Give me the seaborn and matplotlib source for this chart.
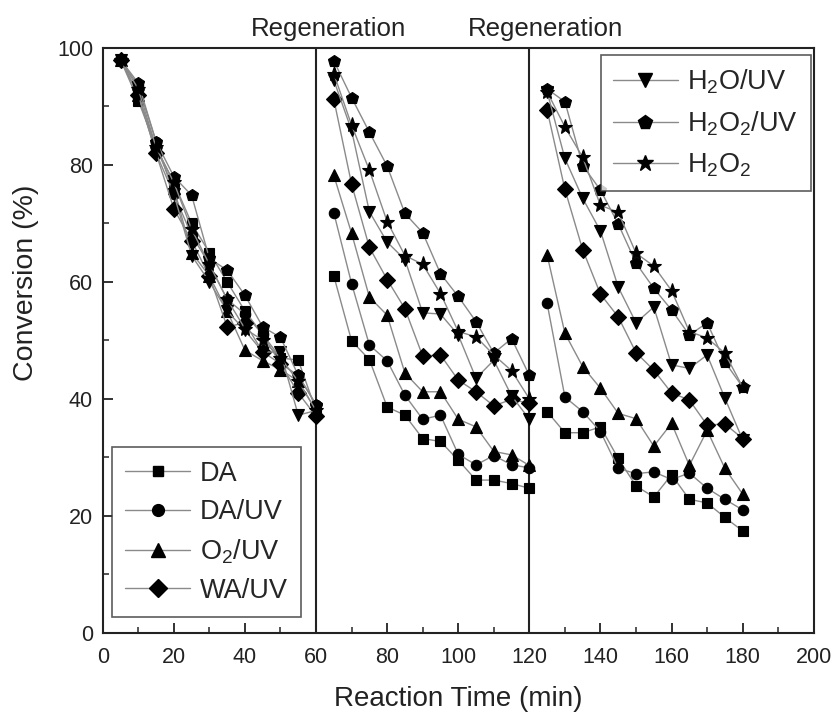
import matplotlib
matplotlib.use("Agg")
import matplotlib.pyplot as plt
from matplotlib.lines import Line2D
import matplotlib.transforms as mtransforms
import numpy as np
import pandas as pd
import seaborn as sns

# Sampling times (min) for the three adsorption cycles
t_cycle1 = [5, 10, 15, 20, 25, 30, 35, 40, 45, 50, 55, 60]
t_cycle2 = [65, 70, 75, 80, 85, 90, 95, 100, 105, 110, 115, 120]
t_cycle3 = [125, 130, 135, 140, 145, 150, 155, 160, 165, 170, 175, 180]

# Conversion (%) for each regeneration method
da_c1 = [98, 91, 83, 77, 70, 65, 60, 55, 51, 47, 46.6, 38]
da_c2 = [61.0, 49.9, 46.7, 38.6, 37.2, 33.2, 32.7, 29.5, 26.1, 26.1, 25.5, 24.7]
da_c3 = [37.8, 34.2, 34.2, 35.2, 29.8, 25.1, 23.2, 27.0, 22.8, 22.2, 19.7, 17.4]

dauv_c1 = [98, 93.5, 84, 75, 68, 63, 57, 54.5, 51, 46, 44, 39]
dauv_c2 = [71.8, 59.7, 49.2, 46.5, 40.6, 36.5, 37.2, 30.5, 28.7, 30.3, 28.7, 28.2]
dauv_c3 = [56.3, 40.3, 37.8, 34.4, 28.1, 27.2, 27.5, 26.2, 27.3, 24.7, 22.8, 21.0]

o2uv_c1 = [98, 92, 83, 76, 65, 61, 55, 48.3, 46.5, 45, 43, 38]
o2uv_c2 = [78.2, 68.3, 57.4, 54.3, 44.4, 41.2, 41.2, 36.5, 35.2, 31.0, 30.4, 28.6]
o2uv_c3 = [64.6, 51.2, 45.5, 41.8, 37.5, 36.6, 31.9, 35.8, 28.6, 34.6, 28.1, 23.7]

wauv_c1 = [98, 92, 82, 72.5, 67, 61, 52.3, 53, 48, 46, 41, 37]
wauv_c2 = [91.2, 76.7, 65.9, 60.4, 55.4, 47.3, 47.5, 43.2, 41.2, 38.8, 39.9, 39.2]
wauv_c3 = [89.4, 75.8, 65.5, 57.9, 54.0, 47.9, 44.9, 41.0, 39.8, 35.5, 35.7, 33.2]

h2ouv_c1 = [98, 92, 82, 75, 64.5, 60, 55, 51.7, 48, 48, 37.2, 38]
h2ouv_c2 = [94.5, 85.9, 72.0, 66.8, 63.8, 54.7, 54.5, 50.9, 43.5, 46.6, 40.5, 36.5]
h2ouv_c3 = [92.5, 81.1, 74.3, 68.7, 59.1, 53.0, 55.7, 45.8, 45.2, 47.5, 40.1, 33.0]

h2o2uv_c1 = [98, 94, 84, 78, 74.8, 64, 62, 57.7, 52.3, 50.5, 44, 39]
h2o2uv_c2 = [97.8, 91.5, 85.6, 79.8, 71.7, 68.4, 61.4, 57.5, 53.2, 47.8, 50.3, 44.0]
h2o2uv_c3 = [93.0, 90.8, 79.9, 75.7, 69.9, 63.2, 58.9, 55.2, 50.9, 53.0, 46.3, 42.0]

h2o2_c1 = [98, 93, 83, 77, 69, 63, 57, 52, 50, 47, 43, 38]
h2o2_c2 = [95.6, 86.8, 79.1, 70.3, 64.5, 63.0, 58.0, 51.5, 50.6, 47.5, 44.8, 40.0]
h2o2_c3 = [92.5, 86.5, 81.3, 73.1, 71.9, 64.9, 62.7, 58.5, 51.5, 50.4, 47.8, 42.0]

series_names = ["DA", "DA/UV", "O2/UV", "WA/UV", "H2O/UV", "H2O2/UV", "H2O2"]
series_labels = ["DA", "DA/UV", "O$_2$/UV", "WA/UV",
                 "H$_2$O/UV", "H$_2$O$_2$/UV", "H$_2$O$_2$"]
series_markers = ["s", "o", "^", "D", "v", "p", "*"]
series_msize = [6.5, 7.5, 9, 8, 9, 9, 11]

cycles = {
    "DA": [da_c1, da_c2, da_c3],
    "DA/UV": [dauv_c1, dauv_c2, dauv_c3],
    "O2/UV": [o2uv_c1, o2uv_c2, o2uv_c3],
    "WA/UV": [wauv_c1, wauv_c2, wauv_c3],
    "H2O/UV": [h2ouv_c1, h2ouv_c2, h2ouv_c3],
    "H2O2/UV": [h2o2uv_c1, h2o2uv_c2, h2o2uv_c3],
    "H2O2": [h2o2_c1, h2o2_c2, h2o2_c3],
}
times = [t_cycle1, t_cycle2, t_cycle3]

rows = []
for name in series_names:
    for k, (tt, vv) in enumerate(zip(times, cycles[name])):
        for t, v in zip(tt, vv):
            rows.append({"method": name, "cycle": k, "time": t, "conv": v})
df = pd.DataFrame(rows)

sns.set_theme(style="white")
plt.rcParams["font.family"] = ["Liberation Sans", "DejaVu Sans"]
plt.rcParams["mathtext.default"] = "regular"

fig = plt.figure(figsize=(8.38, 7.14), dpi=100)
ax = fig.add_axes([0.1226, 0.1139, 0.8485, 0.8189])

line_gray = "#8a8a8a"
for name, mk, ms in zip(series_names, series_markers, series_msize):
    sub = df[df["method"] == name]
    for k in range(3):
        part = sub[sub["cycle"] == k]
        sns.lineplot(data=part, x="time", y="conv", ax=ax, color=line_gray,
                     linewidth=1.0, marker=mk, markersize=ms,
                     markerfacecolor="black", markeredgecolor="black",
                     markeredgewidth=0.8, estimator=None, sort=False,
                     legend=False, zorder=3)

# Regeneration boundaries
for xv in (60, 120):
    ax.axvline(xv, color="#222222", linewidth=1.5, zorder=2)

trans = mtransforms.blended_transform_factory(ax.transData, ax.transAxes)
for xv in (63.5, 124.5):
    ax.text(xv, 1.032, "Regeneration", transform=trans, ha="center",
            va="center", fontsize=18.6, color="#222222")

ax.set_xlim(0, 200)
ax.set_ylim(0, 100)
ax.set_xticks(np.arange(0, 201, 20))
ax.set_xticks(np.arange(0, 201, 10), minor=True)
ax.set_yticks(np.arange(0, 101, 20))
ax.set_yticks(np.arange(0, 101, 10), minor=True)
ax.tick_params(axis="both", which="major", direction="in", length=7,
               width=1.3, labelsize=15.5, colors="#222222",
               bottom=True, left=True, top=False, right=False)
ax.tick_params(axis="x", which="major", pad=10)
ax.tick_params(axis="y", which="major", pad=7)
ax.tick_params(axis="both", which="minor", direction="in", length=4,
               width=1.1, bottom=True, left=True, top=False, right=False)
for sp in ax.spines.values():
    sp.set_color("#222222")
    sp.set_linewidth(1.5)

ax.set_xlabel("Reaction Time (min)", fontsize=20, color="#222222")
ax.set_ylabel("Conversion (%)", fontsize=20.5, color="#222222")
ax.xaxis.set_label_coords(0.5, -0.092)
ax.yaxis.set_label_coords(-0.09, 0.598)


def handles_for(idx):
    return [Line2D([0], [0], color=line_gray, linewidth=1.0,
                   marker=series_markers[i], markersize=series_msize[i] + 1,
                   markerfacecolor="black", markeredgecolor="black")
            for i in idx]


leg1 = ax.legend(handles_for([0, 1, 2, 3]), [series_labels[i] for i in range(4)],
                 loc="lower left", bbox_to_anchor=(0.0127, 0.026),
                 fontsize=19.5, frameon=True, fancybox=False, handlelength=2.4,
                 handletextpad=0.35, labelspacing=0.45, borderpad=0.5,
                 borderaxespad=0.0)
leg1.get_frame().set_edgecolor("#333333")
leg1.get_frame().set_linewidth(1.2)
ax.add_artist(leg1)

leg2 = ax.legend(handles_for([4, 5, 6]), [series_labels[i] for i in range(4, 7)],
                 loc="upper right", bbox_to_anchor=(0.9955, 0.9875),
                 fontsize=19.5, frameon=True, fancybox=False, handlelength=2.4,
                 handletextpad=0.35, labelspacing=0.5, borderpad=0.45,
                 borderaxespad=0.0)
leg2.get_frame().set_edgecolor("#333333")
leg2.get_frame().set_linewidth(1.2)

fig.savefig("out.png", dpi=100)
